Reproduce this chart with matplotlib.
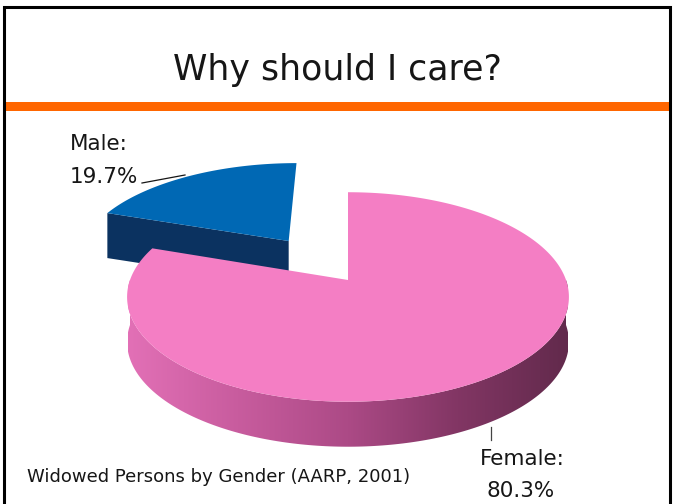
import numpy as np
import matplotlib
matplotlib.use("Agg")
import matplotlib.pyplot as plt
from matplotlib.patches import Polygon

plt.rcParams['font.family'] = ['DejaVu Sans']

# data
labels = ["Male:", "Female:"]
values = [19.7, 80.3]
explode = [0.5, 0.0]
top_colors = ["#0068B4", "#F47EC4"]
cut_colors = ["#0B3260", "#8A3A6C"]
title = "Why should I care?"
caption = "Widowed Persons by Gender (AARP, 2001)"

# pie geometry in pixels (mild perspective)
CX, CY = 348, 280
A, B, K = 218, 102, 0.162
DEPTH = 45


def project(x, y):
    w = 1 + K * y
    return CX + A * x / w, CY - B * y / w


fig = plt.figure(figsize=(6.78, 5.04), dpi=100)
ax = fig.add_axes([0, 0, 1, 1])
ax.set_xlim(0, 678)
ax.set_ylim(504, 0)
ax.axis('off')

# slide frame and orange rule
ax.plot([3.5, 3.5, 670, 670], [504, 7, 7, 504], color='black', lw=2.2,
        solid_joinstyle='miter')
ax.fill_between([4.5, 669], 102, 111, color='#FF6600', lw=0)

# slice angles (counter-clockwise from 12 o'clock)
total = sum(values)
angles = [90.0]
for v in values:
    angles.append(angles[-1] + 360.0 * v / total)

# male slice (exploded, behind)
t0, t1 = np.radians(angles[0]), np.radians(angles[1])
mid = (t0 + t1) / 2
ox, oy = explode[0] * np.cos(mid), explode[0] * np.sin(mid)
tip = project(ox, oy)
corner = project(ox + np.cos(t1), oy + np.sin(t1))
ax.add_patch(Polygon([tip, corner, (corner[0], corner[1] + DEPTH),
                      (tip[0], tip[1] + DEPTH)], closed=True,
                     facecolor=cut_colors[0], edgecolor='none'))
ts = np.linspace(t0, t1, 80)
pts = [tip] + [project(ox + np.cos(t), oy + np.sin(t)) for t in ts]
ax.add_patch(Polygon(pts, closed=True, facecolor=top_colors[0],
                     edgecolor='none'))

# female slice: shaded front side (gradient clipped to the wall)
s0, s1 = np.radians(angles[1]), np.radians(angles[2])
side = np.linspace(np.radians(180), np.radians(360), 200)
upper = [project(np.cos(a), np.sin(a)) for a in side]
lower = [(x, y + DEPTH) for x, y in upper[::-1]]
wall = Polygon(upper + lower, closed=True, facecolor='none',
               edgecolor='none')
ax.add_patch(wall)
stops = np.array([0.0, 0.25, 0.5, 0.75, 1.0])
cols = np.array([[226, 112, 182], [200, 92, 158], [172, 74, 134],
                 [130, 54, 100], [98, 42, 76]]) / 255.0
f = np.linspace(0, 1, 256)
grad = np.stack([np.interp(f, stops, cols[:, i]) for i in range(3)],
                axis=-1)[None, :, :]
x0, x1 = CX - A - 2, CX + A + 2
img = ax.imshow(grad, extent=[x0, x1, CY + 200, CY - 20], aspect='auto',
                interpolation='bilinear')
img.set_clip_path(wall)

ts = np.linspace(s0, s1, 300)
pts = [project(0, 0)] + [project(np.cos(t), np.sin(t)) for t in ts]
ax.add_patch(Polygon(pts, closed=True, facecolor=top_colors[1],
                     edgecolor='none'))
ax.set_xlim(0, 678)
ax.set_ylim(504, 0)

# text
txt = '#161616'
ax.text(337, 80, title, ha='center', va='baseline', fontsize=25, color=txt)
ax.text(27, 482, caption, ha='left', va='baseline', fontsize=13, color=txt)

ax.text(99, 150, labels[0], ha='center', va='baseline', fontsize=15.5,
        color=txt)
ax.text(104, 183, f"{values[0]}%", ha='center', va='baseline',
        fontsize=15.5, color=txt)
ax.plot([142, 185], [183, 175], color=txt, lw=0.9)

ax.text(522, 465, labels[1], ha='center', va='baseline', fontsize=15.5,
        color=txt)
ax.text(521, 497, f"{values[1]}%", ha='center', va='baseline',
        fontsize=15.5, color=txt)
ax.plot([491, 491], [427, 440], color='#444444', lw=0.9)

plt.savefig('out.png', dpi=100)
